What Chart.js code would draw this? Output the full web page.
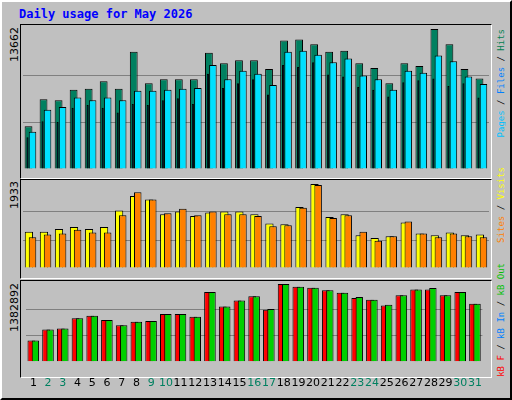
<!DOCTYPE html>
<html>
<head>
<meta charset="utf-8">
<script src="https://cdn.jsdelivr.net/npm/chart.js@4"></script>
<style>
  html, body { margin: 0; padding: 0; }
  body { width: 512px; height: 400px; background: #c0c0c0; position: relative; overflow: hidden; font-family: "DejaVu Sans", sans-serif; }
  .outer { position: absolute; left: 0; top: 0; width: 508px; height: 396px; border: 2px solid; border-color: #ffffff #000000 #000000 #ffffff; }
  .frame { position: absolute; left: 20px; width: 470px; border: 1px solid; border-color: #000000 #ffffff #ffffff #000000; }
  .box { position: absolute; }
  .title { position: absolute; left: 19px; top: 7px; font: bold 12px "DejaVu Sans Mono", monospace; color: #0000ff; }
  .vert { position: absolute; writing-mode: vertical-rl; transform: rotate(180deg); white-space: nowrap; }
  .maxlab { font: 11px "DejaVu Sans", sans-serif; color: #000; left: 8px; }
  .legend { font: 9px "DejaVu Sans Mono", monospace; left: 496px; color: #000; }
</style>
</head>
<body>
<div class="outer"></div>
<div class="title">Daily usage for May 2026</div>

<div class="frame" style="top:24px;height:153px;"></div>
<div class="frame" style="top:179px;height:98px;"></div>
<div class="frame" style="top:280px;height:96px;"></div>

<div class="box" style="left:23px;top:29px;width:466px;height:148px;"><canvas id="hitsChart"></canvas></div>
<div class="box" style="left:23px;top:184px;width:466px;height:92px;"><canvas id="visitsChart"></canvas></div>
<div class="box" style="left:23px;top:284px;width:466px;height:113px;"><canvas id="kbChart"></canvas></div>

<div class="vert maxlab" style="top:27px;">13662</div>
<div class="vert maxlab" style="top:181px;">1933</div>
<div class="vert maxlab" style="top:283px;">1382892</div>

<div class="vert legend" style="bottom:263px;"><span style="color:#00c0ff">Pages</span> / <span style="color:#0080ff">Files</span> / <span style="color:#008050">Hits</span></div>
<div class="vert legend" style="bottom:157px;"><span style="color:#ff8000">Sites</span> / <span style="color:#ffff00">Visits</span></div>
<div class="vert legend" style="bottom:23px;"><span style="color:#ff0000">kB F</span> / <span style="color:#0080ff">kB In</span> / <span style="color:#00c000">kB Out</span></div>

<script>
// Daily usage values for May 2026
const days = ['1','2','3','4','5','6','7','8','9','10','11','12','13','14','15','16',
              '17','18','19','20','21','22','23','24','25','26','27','28','29','30','31'];
const weekendDays = [2, 3, 9, 10, 16, 17, 23, 24, 30, 31];

const hits  = [4173, 6800, 6707, 7728, 7820, 8562, 7820, 11437, 8377, 8748, 8748, 8748, 11344, 10324, 10602, 10602,
               9768, 12549, 12642, 12179, 11437, 11529, 10324, 9860, 8377, 10324, 10046, 13662, 12179, 9768, 8840];
const files = [3647, 5780, 6058, 6986, 6707, 6986, 6707, 7635, 7635, 7728, 7820, 7913, 10138, 8748, 9582, 9304,
               8191, 11437, 11529, 11158, 10417, 10787, 9118, 8748, 7728, 9582, 9397, 11066, 10509, 9026, 8284];
const pages = [3091, 4667, 4575, 5966, 6244, 5966, 5502, 6337, 6244, 6707, 6893, 6337, 9304, 7913, 8377, 8748,
               7264, 10138, 9953, 10417, 9211, 9026, 8006, 7728, 7078, 8469, 8655, 8840, 8098, 8377, 6986];

const visits = [837, 837, 900, 942, 900, 942, 1322, 1659, 1575, 1237, 1301, 1195, 1279, 1301, 1301, 1237,
                1026, 1005, 1406, 1933, 1174, 1237, 752, 689, 731, 1047, 794, 752, 815, 752, 773];
const sites  = [710, 773, 794, 879, 815, 815, 1216, 1743, 1575, 1258, 1364, 1216, 1301, 1237, 1237, 1195,
                963, 984, 1385, 1912, 1153, 1216, 837, 626, 731, 1069, 794, 710, 794, 731, 710];

const kbF   = [378000, 575000, 590000, 772000, 818000, 742000, 651000, 712000, 727000, 848000, 848000, 802000,
               1242000, 984000, 1090000, 1166000, 924000, 1382892, 1332000, 1317000, 1272000, 1226000,
               1136000, 1105000, 999000, 1181000, 1287000, 1287000, 1181000, 1242000, 1030000];
const kbOut = [378000, 575000, 590000, 772000, 818000, 742000, 651000, 712000, 727000, 848000, 848000, 802000,
               1242000, 984000, 1090000, 1166000, 939000, 1382892, 1332000, 1317000, 1272000, 1226000,
               1151000, 1105000, 1014000, 1181000, 1287000, 1312000, 1181000, 1242000, 1030000];

const gridGray = '#808080';

// shifts each dataset sideways so the bars overlap like the original graph
const shiftPlugin = {
    id: 'shift',
    beforeDatasetDraw(chart, args) {
        const dx = chart.data.datasets[args.index].shift || 0;
        chart.ctx.save();
        chart.ctx.translate(dx, 0);
    },
    afterDatasetDraw(chart) {
        chart.ctx.restore();
    }
};

function panelOptions(maxVal, showDays) {
    return {
        responsive: true,
        maintainAspectRatio: false,
        animation: false,
        devicePixelRatio: 1,
        layout: { padding: 0 },
        plugins: { legend: { display: false }, tooltip: { enabled: false } },
        scales: {
            x: {
                grid: { display: false },
                border: { display: false },
                ticks: {
                    display: showDays,
                    padding: 7,
                    autoSkip: false,
                    maxRotation: 0,
                    font: { family: "'DejaVu Sans', sans-serif", size: 11 },
                    color: ctx => weekendDays.includes(ctx.index + 1) ? '#008060' : '#000000'
                }
            },
            y: {
                display: true,
                min: 0,
                max: maxVal,
                border: { display: false },
                ticks: { display: false, stepSize: maxVal / 3, count: 4 },
                grid: {
                    drawTicks: false,
                    color: ctx => (ctx.index === 1 || ctx.index === 2) ? gridGray : 'rgba(0,0,0,0)',
                    lineWidth: 1
                }
            }
        }
    };
}

// first dataset in each list is drawn on top
function barSet(label, data, color, pct, shift) {
    return {
        label: label,
        data: data,
        backgroundColor: color,
        borderColor: '#000000',
        borderWidth: 1,
        borderSkipped: 'bottom',
        grouped: false,
        barPercentage: pct,
        categoryPercentage: 1,
        shift: shift
    };
}

// 1. Hits / Files / Pages
new Chart(document.getElementById('hitsChart'), {
    type: 'bar',
    data: {
        labels: days,
        datasets: [
            barSet('Pages', pages, '#0040ff', 0.14, -3),
            barSet('Files', files, '#00e0ff', 0.5, 2),
            barSet('Hits', hits, '#008060', 0.52, -2)
        ]
    },
    options: panelOptions(13662, false),
    plugins: [shiftPlugin]
});

// 2. Visits / Sites
new Chart(document.getElementById('visitsChart'), {
    type: 'bar',
    data: {
        labels: days,
        datasets: [
            barSet('Sites', sites, '#ff8000', 0.5, 2),
            barSet('Visits', visits, '#ffff00', 0.55, -1.6)
        ]
    },
    options: panelOptions(1933, false),
    plugins: [shiftPlugin]
});

// 3. kB F / kB Out
new Chart(document.getElementById('kbChart'), {
    type: 'bar',
    data: {
        labels: days,
        datasets: [
            barSet('kB Out', kbOut, '#00d000', 0.5, 2),
            barSet('kB F', kbF, '#ff0000', 0.53, -2)
        ]
    },
    options: panelOptions(1382892, true),
    plugins: [shiftPlugin]
});
</script>
</body>
</html>
